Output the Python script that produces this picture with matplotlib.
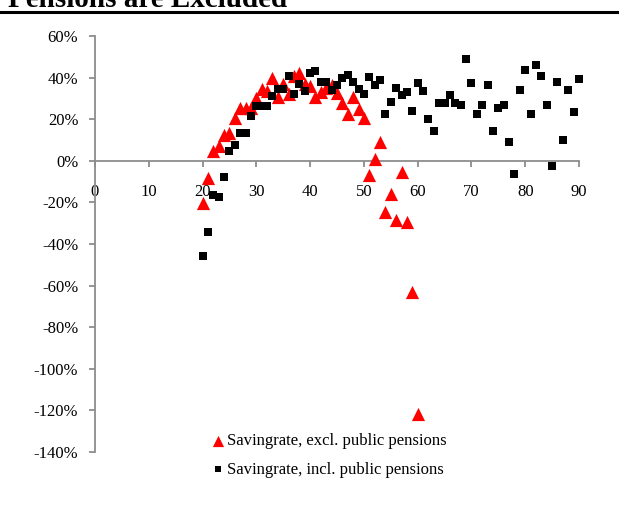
import matplotlib
matplotlib.use("Agg")
from matplotlib import pyplot as plt
from matplotlib.ticker import FuncFormatter
import numpy as np

# age groups and saving rates (%)
ages_excl = list(range(20, 61))
rate_excl = [-20.5, -8.3, 4.5, 7.2, 12.5, 13.6, 20.5, 25.6, 25.6, 25.6,
             30.4, 34.5, 33.6, 40.0, 30.6, 36.8, 32.0, 41.0, 42.0, 36.8,
             36.0, 30.7, 33.0, 35.2, 36.4, 32.8, 27.7, 22.4, 30.9, 24.8,
             20.5, -6.7, 0.8, 8.8, -24.8, -16.0, -28.5, -5.6, -29.3, -63.0,
             -121.5]

ages_incl = list(range(20, 91))
rate_incl = [-46.0, -34.0, -16.5, -17.6, -7.7, 4.8, 7.7, 13.6, 13.6, 21.6,
             26.4, 26.4, 26.4, 31.0, 34.4, 34.4, 40.8, 32.0, 37.0, 33.6,
             42.4, 43.2, 37.9, 37.9, 34.0, 36.3, 39.7, 41.1, 37.9, 34.4,
             32.0, 40.3, 36.3, 38.8, 22.4, 28.3, 35.2, 31.5, 33.0, 24.0,
             37.3, 33.6, 20.3, 14.4, 27.7, 27.7, 31.5, 27.7, 26.9, 49.0,
             37.3, 22.5, 26.9, 36.6, 14.4, 25.3, 26.9, 9.1, -6.4, 34.2,
             43.8, 22.5, 46.0, 40.9, 26.9, -2.7, 38.0, 9.9, 34.2, 23.4,
             39.5]

x_ticks = list(range(0, 91, 10))
y_ticks = list(range(-140, 61, 20))
title = "Pensions are Excluded"
label_excl = "Savingrate, excl. public pensions"
label_incl = "Savingrate, incl. public pensions"

plt.rcParams['font.family'] = ['Liberation Serif', 'DejaVu Serif']

fig = plt.figure(figsize=(6.19, 5.08), dpi=100)
ax = fig.add_axes([95 / 619, 1 - 452 / 508, (579 - 95) / 619, (452 - 36) / 508])

ax.scatter(ages_excl, rate_excl, marker='^', s=9.5 ** 2, color='#ff0000',
           linewidths=0, label=label_excl, zorder=3, clip_on=False)
ax.scatter(ages_incl, rate_incl, marker='s', s=5.6 ** 2, color='#000000',
           linewidths=0, label=label_incl, zorder=4, clip_on=False)

ax.set_xlim(0, 90)
ax.set_ylim(-140, 60)
ax.set_xticks(x_ticks)
ax.set_yticks(y_ticks)
ax.yaxis.set_major_formatter(FuncFormatter(lambda v, p: f"{v:.0f}%"))

for side in ['top', 'right']:
    ax.spines[side].set_visible(False)
ax.spines['bottom'].set_position(('data', 0))
for side in ['left', 'bottom']:
    ax.spines[side].set_color('#8c8c8c')
    ax.spines[side].set_linewidth(1.3)
ax.tick_params(axis='both', colors='#8c8c8c', length=4, width=1.3,
               labelcolor='black', labelsize=12)
ax.tick_params(axis='x', pad=13)
ax.tick_params(axis='y', pad=8)

leg = ax.legend(loc='upper left', bbox_to_anchor=(201 / 619, 1 - 425 / 508),
                bbox_transform=fig.transFigure, frameon=False, fontsize=12,
                handletextpad=0.05, labelspacing=0.75, markerscale=0.85,
                handlelength=1.0, borderpad=0)

fig.text(8 / 619, 1 - 7 / 508, title, fontsize=21, fontweight='bold',
         va='baseline', ha='left')
fig.add_artist(plt.Line2D([0, 1], [1 - 12 / 508, 1 - 12 / 508],
                          transform=fig.transFigure, color='black', linewidth=2.2))

fig.savefig("out.png", dpi=100)
